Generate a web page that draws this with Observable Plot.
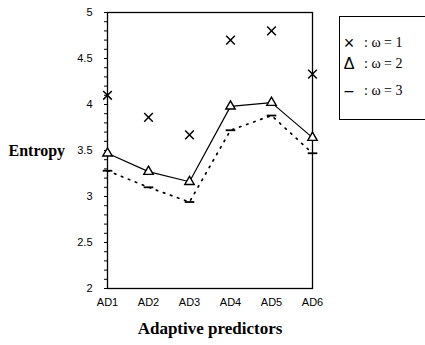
<!DOCTYPE html>
<html>
<head>
<meta charset="utf-8">
<script src="https://cdn.jsdelivr.net/npm/d3@7"></script>
<script src="https://cdn.jsdelivr.net/npm/@observablehq/plot@0.6"></script>
<style>
  html, body { margin: 0; padding: 0; background: #fff; overflow: hidden; }
  #wrap { position: relative; width: 425px; height: 345px; }
  #legend {
    position: absolute; left: 339px; top: 16px; width: 92px; height: 104px;
    border: 1.3px solid #000; box-sizing: border-box;
    font-family: "Liberation Serif", serif; font-size: 14px; color: #000;
  }
  .item { position: absolute; left: 0; white-space: nowrap; }
  .sym { position: absolute; left: 2px; width: 14px; text-align: center; font-family: "Liberation Sans", sans-serif; }
  .lab { position: absolute; left: 24px; }
</style>
</head>
<body>
<div id="wrap"></div>
<script>
const categories = ["AD1", "AD2", "AD3", "AD4", "AD5", "AD6"];
const omega1 = [4.10, 3.86, 3.67, 4.70, 4.80, 4.33];
const omega2 = [3.47, 3.27, 3.16, 3.98, 4.02, 3.64];
const omega3 = [3.28, 3.10, 2.94, 3.72, 3.88, 3.47];
const yTicks = [2, 2.5, 3, 3.5, 4, 4.5, 5];
const yMinor = d3.range(20, 51).map(d => d / 10);
const legendLabels = [": \u03c9 = 1", ": \u03c9 = 2", ": \u03c9 = 3"];

const rows = (vals) => categories.map((c, i) => ({cat: c, v: vals[i]}));
const d1 = rows(omega1), d2 = rows(omega2), d3r = rows(omega3);

const dashSymbol = { draw(ctx, size) { const r = Math.sqrt(size) * 0.9; ctx.moveTo(-r, 0); ctx.lineTo(r, 0); } };

const chart = Plot.plot({
  width: 425,
  height: 345,
  marginLeft: 107,
  marginRight: 113,
  marginTop: 12,
  marginBottom: 57,
  style: { fontFamily: "Liberation Sans, sans-serif", fontSize: "11px", color: "#000", background: "#fff" },
  x: { type: "point", domain: categories, padding: 0 },
  y: { domain: [2, 5] },
  marks: [
    Plot.frame({ stroke: "#000", strokeWidth: 1.3 }),
    Plot.axisY(yMinor, { tickSize: 3, tickFormat: () => "", stroke: "#000", label: null }),
    Plot.axisY(yTicks, { tickSize: 3, tickPadding: 12, tickFormat: d => String(d), fontSize: 11, label: null }),
    Plot.axisX({ tickSize: 0, tickPadding: 10, fontSize: 11, label: null }),
    Plot.line(d3r, { x: "cat", y: "v", stroke: "#000", strokeWidth: 1.7, strokeDasharray: "1.5,6", strokeLinecap: "round" }),
    Plot.dot(d3r, { x: "cat", y: "v", symbol: dashSymbol, r: 3, stroke: "#000", strokeWidth: 1.8, fill: "none" }),
    Plot.line(d2, { x: "cat", y: "v", stroke: "#000", strokeWidth: 1.2 }),
    Plot.dot(d2, { x: "cat", y: "v", symbol: "triangle", r: 3.5, stroke: "#000", strokeWidth: 1.4, fill: "#fff" }),
    Plot.dot(d1, { x: "cat", y: "v", symbol: "times", r: 4, stroke: "#000", strokeWidth: 1.5 }),
    Plot.text(["Entropy"], { frameAnchor: "left", y: 3.5, dx: -99, textAnchor: "start", fontFamily: "Liberation Serif, serif", fontWeight: "bold", fontSize: 16 }),
    Plot.text(["Adaptive predictors"], { frameAnchor: "bottom", dy: 45, fontFamily: "Liberation Serif, serif", fontWeight: "bold", fontSize: 17 })
  ]
});

const wrap = document.getElementById("wrap");
wrap.appendChild(chart);

const legend = document.createElement("div");
legend.id = "legend";
const syms = ["\u00d7", "\u0394", "\u2013"];
const tops = [16, 38, 65];
legendLabels.forEach((t, i) => {
  const it = document.createElement("div");
  it.className = "item";
  it.style.top = tops[i] + "px";
  it.innerHTML = `<span class="sym" style="font-size:${i === 0 ? 18 : 16}px">${syms[i]}</span><span class="lab" style="top:${i === 0 ? 2 : 1}px">${t}</span>`;
  legend.appendChild(it);
});
wrap.appendChild(legend);
</script>
</body>
</html>
